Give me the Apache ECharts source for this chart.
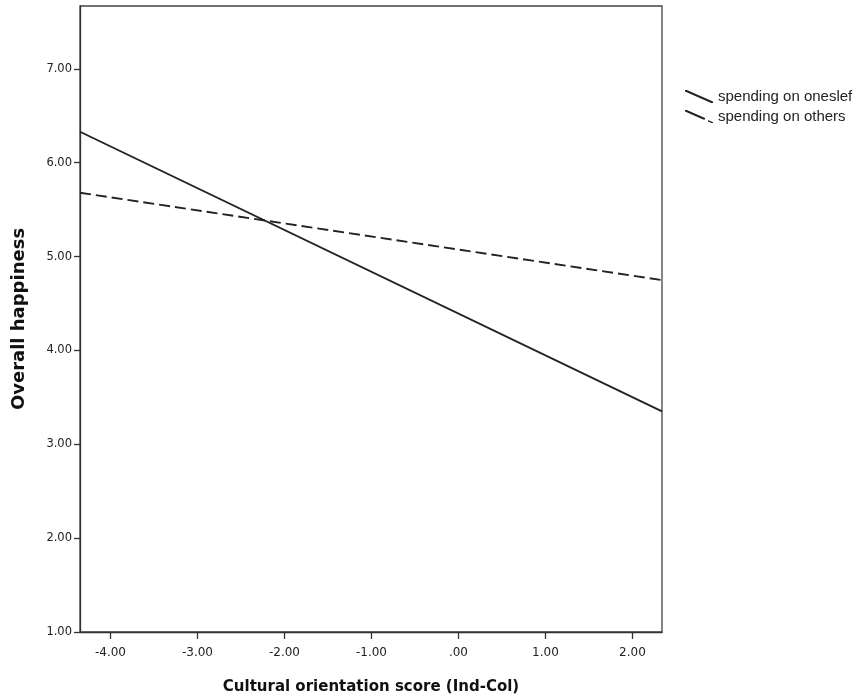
<!DOCTYPE html>
<html>
<head>
<meta charset="utf-8">
<script src="https://cdn.jsdelivr.net/npm/echarts@6/dist/echarts.min.js"></script>
<style>html,body{margin:0;padding:0;background:#fff}#c{width:858px;height:700px}</style>
</head>
<body>
<div id="c"></div>
<script>
// Data
const seriesNames = ['spending on oneslef', 'spending on others'];
const xEnds = [-4.35, 2.34];
const selfValues = [6.33, 3.35];
const othersValues = [5.68, 4.75];
const xTickValues = [-4, -3, -2, -1, 0, 1, 2];
const yTickValues = [1, 2, 3, 4, 5, 6, 7];

const fmt = v => (Math.abs(v) < 1e-9 ? '.00' : v.toFixed(2));
const toPairs = ys => xEnds.map((x, i) => [x, ys[i]]);

const solidIcon = 'path://M0,0L1.8,0L28,11.4L28,13L26.2,13L0,1.6Z';
const dashIcon = 'path://M0,0L1.8,0L20,7.9L20,9.5L18.2,9.5L0,1.6ZM23,10.1L28,12.3L28,13L26.4,13L23,11.6Z';

const chart = echarts.init(document.getElementById('c'), null, {renderer: 'canvas'});
chart.setOption({
  animation: false,
  backgroundColor: '#ffffff',
  grid: {left: 80, right: 196, top: 6, bottom: 67, show: true, borderColor: '#444', borderWidth: 1.3, backgroundColor: '#fff'},
  legend: {
    orient: 'vertical',
    left: 685,
    top: 89,
    padding: 0,
    itemWidth: 28,
    itemHeight: 13,
    itemGap: 5,
    itemStyle: {color: '#222', borderWidth: 0},
    textStyle: {fontFamily: 'Liberation Sans', fontSize: 15, color: '#222'},
    data: [
      {name: seriesNames[0], icon: solidIcon},
      {name: seriesNames[1], icon: dashIcon}
    ]
  },
  xAxis: {
    type: 'value',
    min: xEnds[0],
    max: xEnds[1],
    name: 'Cultural orientation score (Ind-Col)',
    nameLocation: 'middle',
    nameGap: 48,
    nameTextStyle: {fontFamily: 'DejaVu Sans', fontWeight: 'bold', fontSize: 15, color: '#111'},
    axisLine: {show: true, onZero: false, lineStyle: {color: '#333', width: 1.3}},
    axisTick: {show: true, length: 7, customValues: xTickValues, lineStyle: {color: '#333', width: 1.3}},
    axisLabel: {customValues: xTickValues, formatter: fmt, margin: 15, fontFamily: 'DejaVu Sans', fontSize: 12, color: '#222'},
    splitLine: {show: false}
  },
  yAxis: {
    type: 'value',
    min: 1,
    max: 7.67,
    name: 'Overall happiness',
    nameLocation: 'middle',
    nameRotate: 90,
    nameGap: 52,
    nameTextStyle: {fontFamily: 'DejaVu Sans', fontWeight: 'bold', fontSize: 18, color: '#111'},
    axisLine: {show: true, onZero: false, lineStyle: {color: '#333', width: 1.3}},
    axisTick: {show: true, length: 6, customValues: yTickValues, lineStyle: {color: '#333', width: 1.3}},
    axisLabel: {customValues: yTickValues, formatter: fmt, margin: 8, fontFamily: 'DejaVu Sans', fontSize: 11.5, color: '#222'},
    splitLine: {show: false}
  },
  series: [
    {
      name: seriesNames[0], type: 'line', data: toPairs(selfValues),
      symbol: 'none', showSymbol: false,
      lineStyle: {color: '#222', width: 1.9, type: 'solid'},
      itemStyle: {color: '#222'}
    },
    {
      name: seriesNames[1], type: 'line', data: toPairs(othersValues),
      symbol: 'none', showSymbol: false,
      lineStyle: {color: '#222', width: 1.9, type: [11, 5]},
      itemStyle: {color: '#222'}
    }
  ]
});
</script>
</body>
</html>
